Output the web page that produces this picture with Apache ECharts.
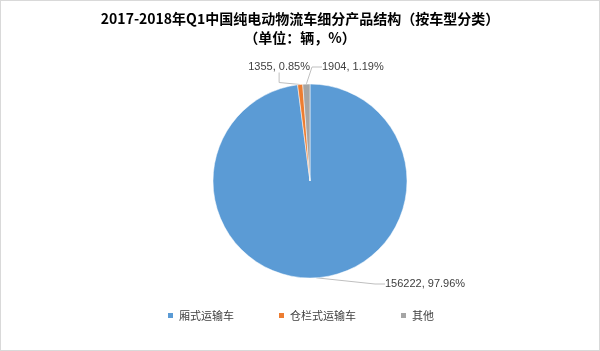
<!DOCTYPE html>
<html><head><meta charset="utf-8">
<script src="https://cdn.jsdelivr.net/npm/echarts@6/dist/echarts.min.js"></script>
<style>html,body{margin:0;padding:0;background:#fff}#c{width:600px;height:351px;box-sizing:border-box;border:1px solid #d9d9d9}</style>
</head><body><div id="c"></div>
<script>
const categories = ['厢式运输车', '仓栏式运输车', '其他'];
const values = [156222, 1355, 1904];
const percents = ['97.96%', '0.85%', '1.19%'];
const colors = ['#5B9BD5', '#ED7D31', '#A5A5A5'];
const titleLines = ['2017-2018年Q1中国纯电动物流车细分产品结构（按车型分类）', '（单位：辆，%）'];

const chart = echarts.init(document.getElementById('c'));
// label anchor placement (text layout only)
const labelPlace = [
  { x: 384, y: 283, align: 'left' },
  { x: 309, y: 66, align: 'right' },
  { x: 321, y: 66, align: 'left' }
];
chart.setOption({
  animation: false,
  title: {
    text: titleLines.join('\n'),
    left: 'center', top: 3,
    textStyle: { fontFamily: 'Noto Sans CJK SC', fontSize: 14, fontWeight: 'bold', color: '#000', lineHeight: 19 }
  },
  legend: {
    bottom: 24, left: 'center', itemWidth: 7, itemHeight: 7, itemGap: 43,
    icon: 'rect',
    textStyle: { fontFamily: 'Noto Sans CJK SC', fontSize: 11, color: '#404040', padding: [0, 0, 0, 0] },
    data: categories
  },
  series: [{
    type: 'pie',
    center: [309, 180],
    radius: 97,
    startAngle: 90,
    clockwise: true,
    avoidLabelOverlap: false,
    itemStyle: { borderColor: '#fff', borderWidth: 0.5 },
    label: {
      show: true,
      formatter: p => p.value + ', ' + percents[p.dataIndex],
      fontFamily: 'Liberation Sans', fontSize: 11, color: '#404040'
    },
    labelLine: { show: true, length: 15, length2: 10, lineStyle: { color: '#BFBFBF', width: 1 } },
    labelLayout: p => Object.assign({ verticalAlign: 'middle', hideOverlap: false }, labelPlace[p.dataIndex]),
    data: categories.map((c, i) => ({ name: c, value: values[i], itemStyle: { color: colors[i] } }))
  }]
});
</script>
</body></html>
